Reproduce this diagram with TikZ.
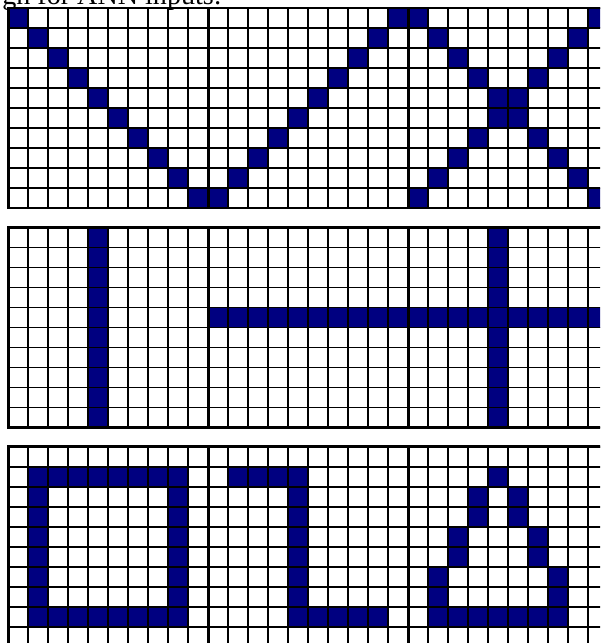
\documentclass[tikz,border=0pt]{standalone}
\usepackage{fontspec}
\setmainfont{Liberation Serif}
\definecolor{pxnavy}{HTML}{000080}
\definecolor{pxink}{HTML}{000000}
\tikzset{
  pxcell/.style={fill=pxnavy},
  pxgrid/.style={draw=pxink, line width=1.3pt, step=0.5cm},
  pxframe/.style={draw=pxink, line width=1.8pt},
  pxcaption/.style={anchor=base east, inner sep=0pt,
    font=\fontsize{20}{24}\selectfont, text=pxink},
}

\begin{document}
\begin{tikzpicture}[x=0.5cm, y=0.5cm]

\clip (0, 0) rectangle (30, -32.15);

% Caption line, cut off by the top edge.
\node[pxcaption] (caption) at (11.1, -0.22) {gn for ANN inputs:};

% Panel 1: V and X.
\begin{scope}[shift={(0.415, -0.4)}]
  \foreach \i in {0,...,9} {
    \fill[pxcell] (\i, -\i) rectangle ++(1, -1);
    \fill[pxcell] (19-\i, -\i) rectangle ++(1, -1);
    \fill[pxcell] (20+\i, -\i) rectangle ++(1, -1);
    \fill[pxcell] (29-\i, -\i) rectangle ++(1, -1);
  }
  \draw[pxgrid] (0, 0) grid (30, -10);
  \foreach \x in {0, 10, 20, 30} {
    \draw[pxframe] (\x, 0) -- (\x, -10);
  }
  \draw[pxframe] (0, 0) rectangle (30, -10);
\end{scope}

% Panel 2: vertical bar, horizontal bar, cross.
\begin{scope}[shift={(0.415, -11.375)}]
  \fill[pxcell] (4, 0) rectangle (5, -10);
  \fill[pxcell] (10, -4) rectangle (30, -5);
  \fill[pxcell] (24, 0) rectangle (25, -10);
  \draw[pxgrid] (0, 0) grid (30, -10);
  \foreach \x in {0, 10, 20, 30} {
    \draw[pxframe] (\x, 0) -- (\x, -10);
  }
  \draw[pxframe] (0, 0) rectangle (30, -10);
\end{scope}

% Panel 3: square, step, triangle.
\begin{scope}[shift={(0.415, -22.33)}]
  \fill[pxcell, even odd rule] (1, -1) rectangle (9, -9)
    (2, -2) rectangle (8, -8);
  \fill[pxcell] (11, -1) rectangle (15, -2);
  \fill[pxcell] (14, -1) rectangle (15, -9);
  \fill[pxcell] (14, -8) rectangle (19, -9);
  \foreach \c/\r in {24/1, 23/2, 25/2, 23/3, 25/3, 22/4, 26/4,
                     22/5, 26/5, 21/6, 27/6, 21/7, 27/7} {
    \fill[pxcell] (\c, -\r) rectangle ++(1, -1);
  }
  \fill[pxcell] (21, -8) rectangle (28, -9);
  \draw[pxgrid] (0, 0) grid (30, -10);
  \foreach \x in {0, 10, 20, 30} {
    \draw[pxframe] (\x, 0) -- (\x, -10);
  }
  \draw[pxframe] (0, 0) rectangle (30, -10);
\end{scope}

\end{tikzpicture}
\end{document}
